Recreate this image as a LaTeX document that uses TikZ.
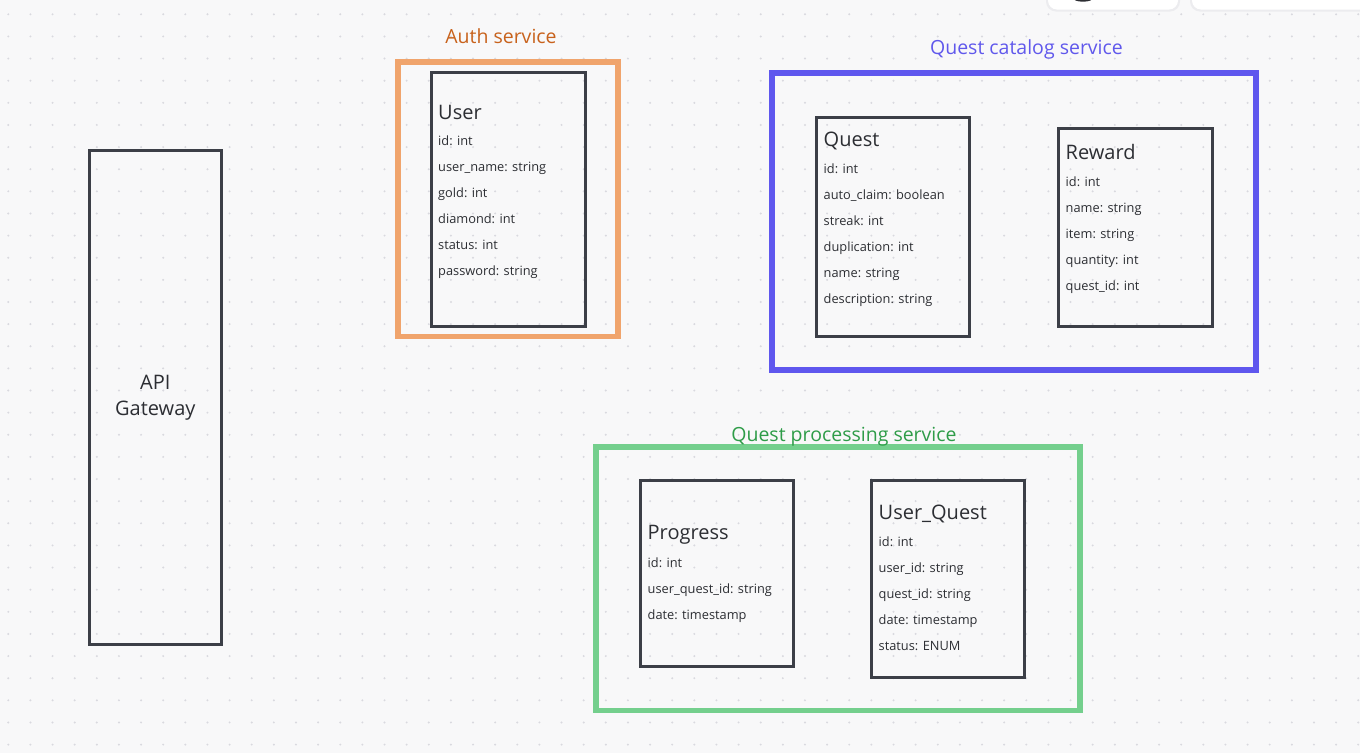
\documentclass[tikz,border=0pt]{standalone}
\usepackage{fontspec}
\setmainfont{Open Sans}
\usetikzlibrary{fit}
\definecolor{bgc}{HTML}{F8F8F9}
\definecolor{dotc}{HTML}{D9D9DF}
\definecolor{boxgray}{HTML}{3C3F47}
\definecolor{ink}{HTML}{2C2E33}
\definecolor{orangeF}{HTML}{F0A46C}
\definecolor{orangeT}{HTML}{C8621C}
\definecolor{blueF}{HTML}{5F57EE}
\definecolor{blueT}{HTML}{6058EC}
\definecolor{greenF}{HTML}{74CF8D}
\definecolor{greenT}{HTML}{2E9C48}
\definecolor{shadowc}{HTML}{ECECEF}
\definecolor{iconc}{HTML}{2D2E33}
\tikzset{
  entbox/.style={draw=boxgray, line width=3pt, inner sep=0pt, outer sep=0pt},
  frame/.style={line width=5.5pt, inner sep=0pt, outer sep=0pt},
  title/.style={font=\fontsize{20}{26}\selectfont, text=ink, inner sep=0pt, anchor=base west},
  field/.style={font=\fontsize{12.8}{16}\selectfont, text=ink, inner sep=0pt, anchor=base west},
  svclabel/.style={font=\fontsize{19.5}{24}\selectfont, inner sep=0pt, anchor=base},
}
\newcommand\drawentity[9]{%
  \node[entbox, fit={(#2,#3) (#4,#5)}] (#1) {};
  \node[title] (#1-title) at ({#2+7},#7) {#6};
  \foreach \f [count=\k] in {#9}
    \node[field] (#1-f\k) at ({#2+7},{#8+26*(\k-1)}) {\f};
}
\begin{document}
\begin{tikzpicture}[x=1pt,y=-1pt]
\useasboundingbox (0,0) rectangle (1360,753);
\fill[bgc] (0,0) rectangle (1360,753);
% dot grid
\foreach \i in {0,...,61}
  \foreach \j in {0,...,33}
    \fill[dotc] ({8.3+22.13*\i},{14.3+22.13*\j}) circle (1.1pt);
% top-right toolbar fragments
\begin{scope}
\clip (0,0) rectangle (1360,753);
\fill[shadowc, rounded corners=10pt] (1046,-30) rectangle (1180,11.5);
\fill[white, rounded corners=9pt] (1048,-30) rectangle (1178,9.5);
\fill[shadowc, rounded corners=10pt] (1190,-30) rectangle (1400,11.5);
\fill[white, rounded corners=9pt] (1192,-30) rectangle (1400,9.5);
\fill[iconc] (1083,-2) ellipse (10pt and 3.7pt);
\end{scope}
% service frames
\node[frame, draw=orangeF, fit={(398,62) (618,336.5)}] (auth) {};
\node[svclabel, text=orangeT] (auth-label) at (501,43) {Auth service};
\node[frame, draw=blueF, fit={(772,73) (1256,370)}] (catalog) {};
\node[svclabel, text=blueT] (catalog-label) at (1026.5,54) {Quest catalog service};
\node[frame, draw=greenF, fit={(596,447) (1080,710.5)}] (processing) {};
\node[svclabel, text=greenT] (processing-label) at (844,441) {Quest processing service};
% API gateway
\node[entbox, fit={(89.3,150.3) (221.3,644.3)}] (api) {};
\node[align=center, text=ink, inner sep=0pt, font=\fontsize{20}{26}\selectfont]
  (api-label) at (api.center) {API\\Gateway};
% entities
\drawentity{user}{431}{72}{585}{326}{User}{119}{145}
  {id: int, user\_name: string, gold: int, diamond: int, status: int, password: string}
\drawentity{quest}{816.5}{117}{969.5}{336.5}{Quest}{146}{173}
  {id: int, auto\_claim: boolean, streak: int, duplication: int, name: string, description: string}
\drawentity{reward}{1058.5}{128.5}{1212}{326}{Reward}{159}{186}
  {id: int, name: string, item: string, quantity: int, quest\_id: int}
\drawentity{progress}{640.5}{480.5}{793.5}{666.5}{Progress}{539}{567}
  {id: int, user\_quest\_id: string, date: timestamp}
\drawentity{userquest}{871.5}{480.5}{1024.5}{677}{User\_Quest}{519}{546}
  {id: int, user\_id: string, quest\_id: string, date: timestamp, status: ENUM}
\end{tikzpicture}
\end{document}
